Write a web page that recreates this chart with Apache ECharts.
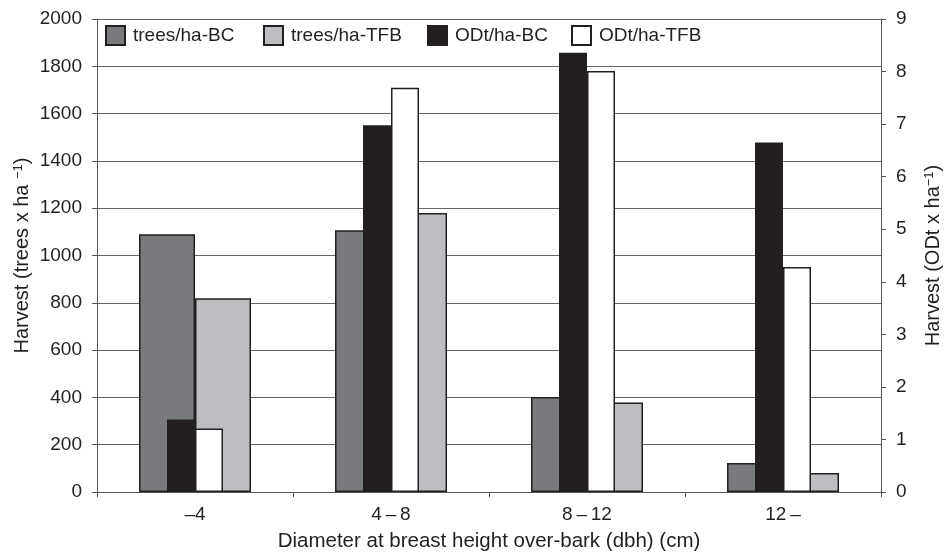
<!DOCTYPE html>
<html>
<head>
<meta charset="utf-8">
<script src="https://cdn.jsdelivr.net/npm/echarts@6/dist/echarts.min.js"></script>
<style>
html,body{margin:0;padding:0;background:#fff;}
#chart{width:947px;height:556px;}
</style>
</head>
<body>
<div id="chart"></div>
<script>
const categories = ['\u20134', '4\u2009\u2013\u20098', '8\u2009\u2013\u200912', '12\u2009\u2013'];
const treesBC = [1090, 1107, 402, 123];
const treesTFB = [819, 1180, 378, 80];
const odtBC = [1.38, 6.98, 8.36, 6.65];
const odtTFB = [1.21, 7.69, 8.01, 4.28];
const leftTicks = { min: 0, max: 2000, interval: 200 };
const rightTicks = { min: 0, max: 9, interval: 1 };

const FONT = 'Liberation Sans, Arial, sans-serif';
const INK = '#231f20';
const border = { borderColor: INK, borderWidth: 1.5 };

const chart = echarts.init(document.getElementById('chart'), null, { renderer: 'canvas' });

function legendAt(name, left) {
  return {
    data: [name], left: left, top: 25, padding: 0, icon: 'rect',
    itemWidth: 19, itemHeight: 19, itemGap: 0,
    textStyle: { fontFamily: FONT, fontSize: 19, color: INK, padding: [0, 0, 0, 3] }
  };
}

const plain = v => String(v);

chart.setOption({
  animation: false,
  backgroundColor: '#fff',
  textStyle: { fontFamily: FONT },
  grid: { left: 97, right: 66, top: 19, bottom: 64, containLabel: false, outerBoundsMode: 'none' },
  legend: [
    legendAt('trees/ha-BC', 105),
    legendAt('trees/ha-TFB', 263),
    legendAt('ODt/ha-BC', 427),
    legendAt('ODt/ha-TFB', 571)
  ],
  xAxis: [{
    type: 'category', data: categories, gridIndex: 0,
    axisLine: { lineStyle: { color: '#555', width: 1 } },
    axisTick: { show: true, length: 5, lineStyle: { color: '#555' } },
    axisLabel: { fontFamily: FONT, fontSize: 19, color: INK, margin: 13 },
    name: 'Diameter at breast height over-bark (dbh) (cm)',
    nameLocation: 'middle', nameGap: 39,
    nameTextStyle: { fontFamily: FONT, fontSize: 20.5, color: INK }
  }, {
    type: 'category', data: categories, gridIndex: 0, show: false
  }],
  yAxis: [{
    type: 'value', position: 'left',
    min: leftTicks.min, max: leftTicks.max, interval: leftTicks.interval,
    axisLine: { show: true, lineStyle: { color: '#555', width: 1 } },
    axisTick: { show: true, length: 5, lineStyle: { color: '#555' } },
    axisLabel: { fontFamily: FONT, fontSize: 19, color: INK, margin: 15, formatter: plain },
    splitLine: { show: true, lineStyle: { color: '#666', width: 1 } },
    name: 'Harvest (trees x ha {sup|\u22121})',
    nameLocation: 'middle', nameGap: 64, nameRotate: 90, nameMoveOverlap: false,
    nameTextStyle: { fontFamily: FONT, fontSize: 20, color: INK,
      rich: { sup: { fontFamily: FONT, fontSize: 13, color: INK, verticalAlign: 'top', padding: [0, 0, 8, 0] } } }
  }, {
    type: 'value', position: 'right',
    min: rightTicks.min, max: rightTicks.max, interval: rightTicks.interval,
    axisLine: { show: true, lineStyle: { color: '#555', width: 1 } },
    axisTick: { show: true, length: 5, lineStyle: { color: '#555' } },
    axisLabel: { fontFamily: FONT, fontSize: 19, color: INK, margin: 15, formatter: plain },
    splitLine: { show: false },
    name: 'Harvest (ODt x ha{sup|\u22121})',
    nameLocation: 'middle', nameGap: 42, nameRotate: 90,
    nameTextStyle: { fontFamily: FONT, fontSize: 20, color: INK,
      rich: { sup: { fontFamily: FONT, fontSize: 13, color: INK, verticalAlign: 'top', padding: [0, 0, 8, 0] } } }
  }],
  series: [{
    name: 'trees/ha-BC', type: 'bar', xAxisIndex: 0, yAxisIndex: 0,
    data: treesBC, barWidth: 56, barGap: '0%',
    itemStyle: Object.assign({ color: '#797a7e' }, border)
  }, {
    name: 'trees/ha-TFB', type: 'bar', xAxisIndex: 0, yAxisIndex: 0,
    data: treesTFB, barWidth: 56, barGap: '0%',
    itemStyle: Object.assign({ color: '#bdbec2' }, border)
  }, {
    name: 'ODt/ha-BC', type: 'bar', xAxisIndex: 1, yAxisIndex: 1,
    data: odtBC, barWidth: 28, barGap: '0%',
    itemStyle: Object.assign({ color: INK }, border)
  }, {
    name: 'ODt/ha-TFB', type: 'bar', xAxisIndex: 1, yAxisIndex: 1,
    data: odtTFB, barWidth: 28, barGap: '0%',
    itemStyle: Object.assign({ color: '#ffffff' }, border)
  }]
});
</script>
</body>
</html>
